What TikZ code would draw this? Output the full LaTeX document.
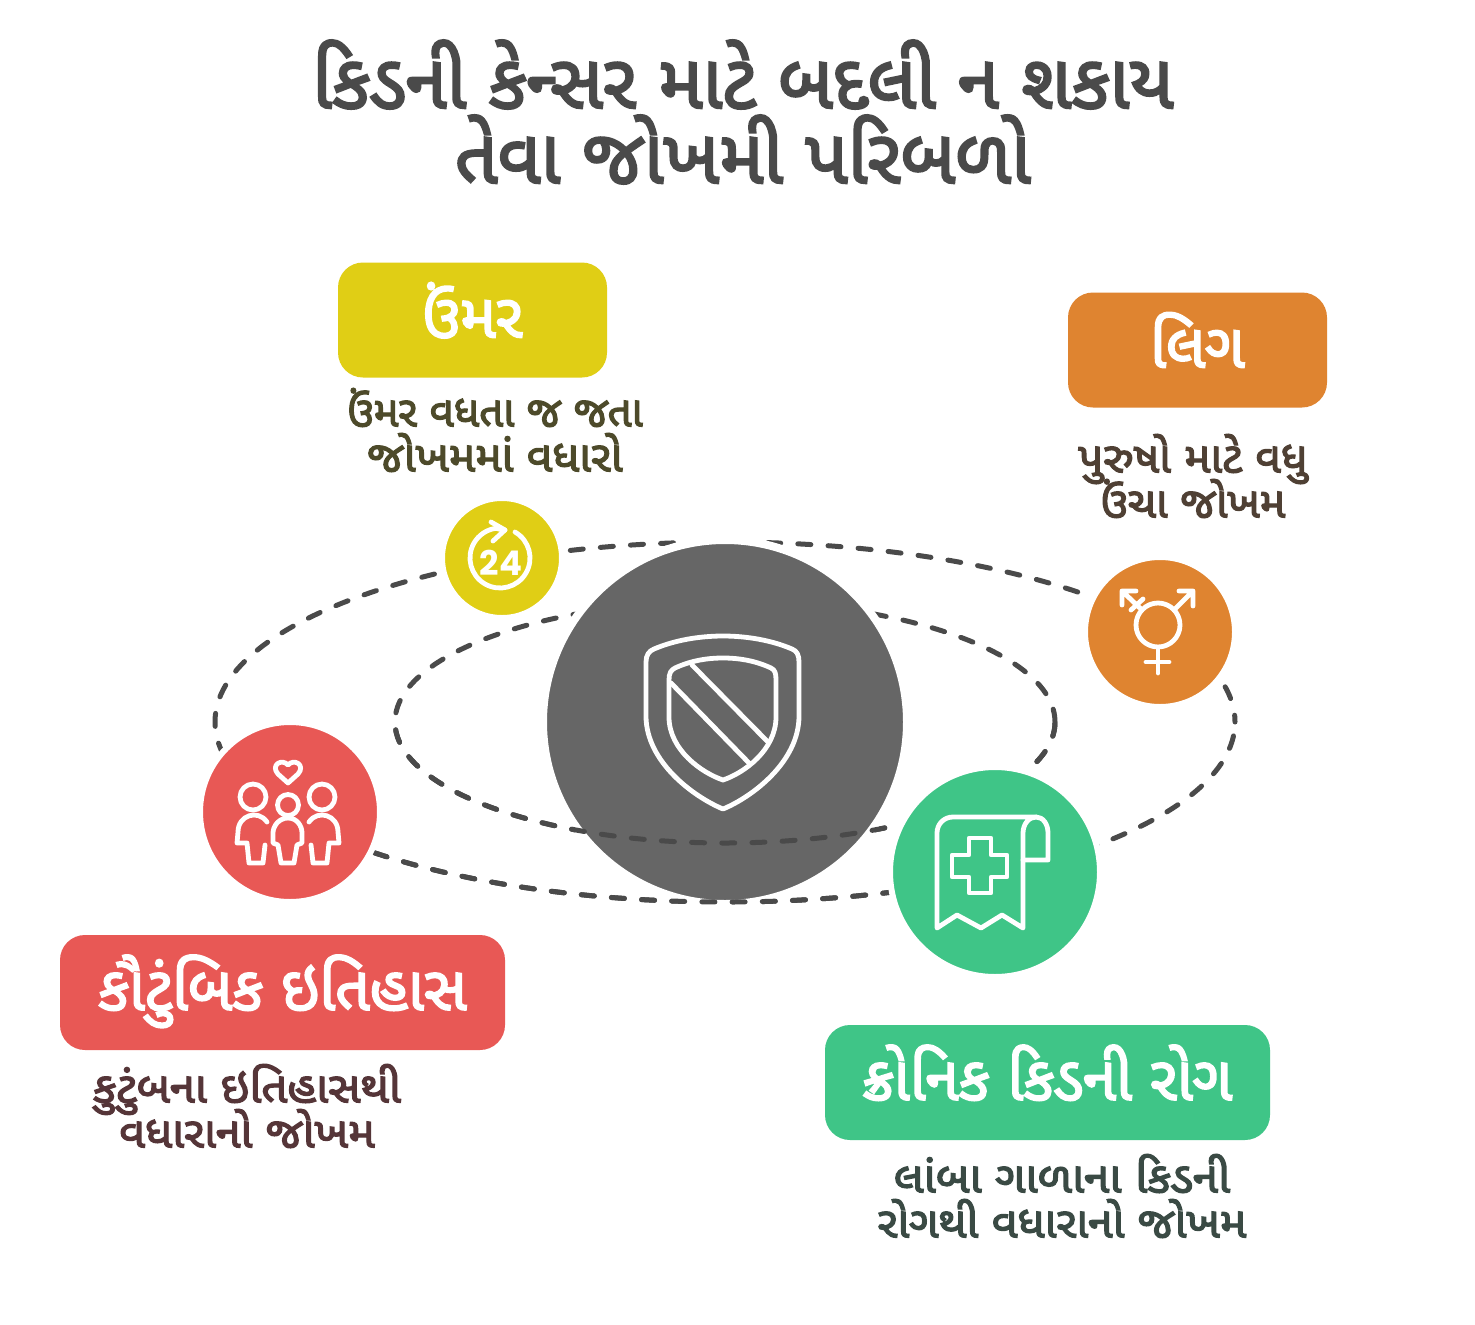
\documentclass[tikz,border=0pt]{standalone}
\usepackage{graphicx}
\usepackage{fontspec}
\newfontfamily\guj[Script=Gujarati,FakeStretch=0.98,FakeBold=2.9]{Noto Sans Gujarati UI}
\newfontfamily\numfont{Poppins}
\newcommand{\tightlines}{\lineskiplimit=-200pt\lineskip=0pt}
\newcommand{\widen}[2]{\scalebox{#1}[1]{#2}}
\definecolor{cyellow}{HTML}{E0CE15}
\definecolor{corange}{HTML}{DF8430}
\definecolor{cred}{HTML}{E85855}
\definecolor{cgreen}{HTML}{3FC587}
\definecolor{cgrey}{HTML}{666666}
\definecolor{cdash}{HTML}{4A4A4A}
\definecolor{ctitle}{HTML}{4A4A4A}
\definecolor{tyellow}{HTML}{4D4A2A}
\definecolor{torange}{HTML}{4F4034}
\definecolor{tred}{HTML}{553538}
\definecolor{tgreen}{HTML}{3A4A44}
\tikzset{
  disc/.style n args={2}{circle,inner sep=0pt,outer sep=0pt,minimum size=#2,fill=#1,draw=white,line width=6pt},
  labelbox/.style n args={2}{rectangle,rounded corners=25pt,inner sep=0pt,outer sep=0pt,fill=#1,minimum height=115pt,minimum width=#2,text=white,text height=45pt,text depth=10pt,font=\guj\fontsize{61.5}{66}\selectfont},
  desctext/.style={align=center,inner sep=0pt,font=\guj\fontsize{42.8}{45}\selectfont\tightlines},
  orbit/.style={draw=cdash,line width=5pt,line cap=round,dash pattern=on 13pt off 17.2pt},
  iconline/.style={draw=white,line width=4.8pt,line cap=round,line join=round},
}
\begin{document}
\begin{tikzpicture}[x=1pt,y=-1pt]
\useasboundingbox (0,0) rectangle (1475,1325);
\fill[white] (0,0) rectangle (1475,1325);
% title
\node[align=center,inner sep=0pt,text=ctitle,font=\guj\fontsize{76}{75}\selectfont\tightlines] (title) at (743,112) {કિડની કેન્સર માટે બદલી ન શકાય\\તેવા જોખમી પરિબળો};
% orbits (local frame with y upwards, origin at the centre disc)
\begin{scope}[shift={(725,722)},x=1pt,y=1pt]
\path[orbit,dash phase=6.2pt] (0:510 and 180) arc [start angle=0,end angle=31.5,x radius=510,y radius=180];
\path[orbit,dash phase=0.8pt] (31.5:510 and 180) arc [start angle=31.5,end angle=90,x radius=510,y radius=180];
\path[orbit,dash phase=9pt] (90:510 and 180) arc [start angle=90,end angle=211.5,x radius=510,y radius=180];
\path[orbit,dash phase=28.6pt] (211.5:510 and 180) arc [start angle=211.5,end angle=300,x radius=510,y radius=180];
\path[orbit,dash phase=12.2pt] (300:510 and 180) arc [start angle=300,end angle=360,x radius=510,y radius=180];
\path[orbit] (0,0) ellipse [x radius=330,y radius=121];
\end{scope}
% centre disc
\node[disc={cgrey}{364pt},line width=8pt] (centre) at (725,722) {};
\begin{scope}
\clip (0,722) rectangle (1475,1000);
\begin{scope}[shift={(725,722)},x=1pt,y=1pt]
\path[orbit,dash phase=28.6pt] (211.5:510 and 180) arc [start angle=211.5,end angle=300,x radius=510,y radius=180];
\path[orbit] (0,0) ellipse [x radius=330,y radius=121];
\end{scope}
\end{scope}
% shield
\draw[iconline] (646,662) .. controls (646,655) and (649,651) .. (654,649) .. controls (675,640) and (700,636) .. (723,636) .. controls (746,636) and (771,640) .. (792,649) .. controls (797,651) and (799,655) .. (799,662) -- (799,716) .. controls (799,762) and (752,797) .. (723,809) .. controls (694,797) and (646,762) .. (646,716) -- cycle;
\draw[iconline] (669,680) .. controls (669,673) and (671,670) .. (675,668) .. controls (690,661) and (706,658) .. (723,658) .. controls (740,658) and (756,661) .. (771,668) .. controls (775,670) and (776,673) .. (776,680) -- (776,717) .. controls (776,750) and (744,773) .. (723,780) .. controls (702,773) and (669,750) .. (669,717) -- cycle;
\draw[iconline] (692,665) -- (768,742);
\draw[iconline] (671,683) -- (750,764);
% small discs
\node[disc={cyellow}{120pt}] (agedisc) at (502,558) {};
\node[disc={corange}{150pt}] (sexdisc) at (1160,632) {};
\node[disc={cred}{180pt}] (famdisc) at (290,812) {};
\node[disc={cgreen}{210pt}] (ckddisc) at (995,872) {};
% clock icon
\begin{scope}[shift={(500,558)},x=1pt,y=1pt]
\draw[iconline] (60:30) arc [start angle=60,end angle=-262,radius=30] .. controls (-1,29) and (2,28) .. (5,28);
\draw[iconline] (-9,36) -- (5,28) -- (-7,17);
\end{scope}
\node[text=white,inner sep=0pt,font=\numfont\bfseries\fontsize{34}{34}\selectfont] (hours) at (501,563) {24};
% gender icon
\draw[iconline] (1158,625) circle [radius=22];
\draw[iconline] (1158,648) -- (1158,673) (1146,662) -- (1169,662);
\draw[iconline] (1174,610) -- (1193,591) (1179,591) -- (1193,591) -- (1193,606);
\draw[iconline] (1142,610) -- (1122,591) (1122,605) -- (1122,591) -- (1136,591) (1131,610) -- (1143,599);
% family icon
\draw[iconline] (288,783) -- (278,774) .. controls (270,765) and (282,758) .. (288,765) .. controls (294,758) and (306,765) .. (298,774) -- cycle;
\draw[iconline] (253,797) circle [radius=13] (322,797) circle [radius=13] (288,805) circle [radius=10.5];
\draw[iconline] (267,822) .. controls (258,809) and (238,815) .. (238,832) -- (237,843) -- (247,843) -- (249,863) -- (263,863) -- (265,845);
\draw[iconline] (309,822) .. controls (318,809) and (338,815) .. (338,832) -- (339,843) -- (329,843) -- (327,863) -- (313,863) -- (311,845);
\draw[iconline] (288,818) .. controls (279,818) and (273,826) .. (273,833) -- (273,843) -- (278,845) -- (281,863) -- (294,863) -- (297,845) -- (302,843) -- (302,833) .. controls (302,826) and (297,818) .. (288,818) -- cycle;
% record icon
\draw[iconline] (937,928) -- (937,833) .. controls (937,824) and (944,817) .. (953,817) -- (1036,817) .. controls (1029,817) and (1023,824) .. (1023,833) -- (1023,928) -- (1002,915) -- (981,928) -- (957,915) -- cycle;
\draw[iconline] (1036,817) .. controls (1043,817) and (1048,824) .. (1048,833) -- (1048,860) -- (1023,860);
\draw[iconline] (969,838) -- (991,838) -- (991,855) -- (1007,855) -- (1007,877) -- (991,877) -- (991,893) -- (969,893) -- (969,877) -- (952,877) -- (952,855) -- (969,855) -- cycle;
% boxes
\node[labelbox={cyellow}{269pt}] (agebox) at (472.5,320) {ઉંમર};
\node[labelbox={corange}{259pt}] (sexbox) at (1197.5,350) {લિગ};
\node[labelbox={cred}{445pt}] (fambox) at (282.5,992.5) {કૌટુંબિક ઇતિહાસ};
\node[labelbox={cgreen}{445pt}] (ckdbox) at (1047.5,1082.5) {ક્રોનિક કિડની રોગ};
% descriptions
\node[desctext,text=tyellow] (agetext) at (495,430) {ઉંમર વધતા જ જતા\\\widen{1.06}{જોખમમાં વધારો}};
\node[desctext,text=torange] (sextext) at (1193,476) {\widen{1.055}{પુરુષો માટે વધુ}\\\widen{1.03}{ઉંચા જોખમ}};
\node[desctext,text=tred] (famtext) at (247,1106) {\widen{1.084}{કુટુંબના ઇતિહાસથી}\\\widen{1.07}{વધારાનો જોખમ}};
\node[desctext,text=tgreen] (ckdtext) at (1062,1196) {\widen{1.095}{લાંબા ગાળાના કિડની}\\\widen{1.066}{રોગથી વધારાનો જોખમ}};
\end{tikzpicture}
\end{document}
